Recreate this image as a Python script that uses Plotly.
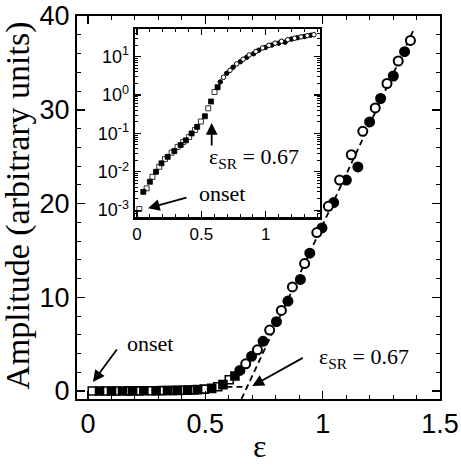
import plotly.graph_objects as go

# ---- data ----
sq_eps = [0.018, 0.049, 0.075, 0.100, 0.120, 0.147, 0.173, 0.190, 0.217, 0.238, 0.269, 0.290, 0.315,
          0.339, 0.359, 0.380, 0.405, 0.424, 0.450, 0.467, 0.496, 0.527, 0.553, 0.575, 0.602, 0.626]
sq_amp = [0.00107, 0.0030, 0.0037, 0.0055, 0.0074, 0.010, 0.0135, 0.0166, 0.0214, 0.0245, 0.0316, 0.0347, 0.0447,
          0.050, 0.060, 0.066, 0.081, 0.100, 0.123, 0.148, 0.204, 0.28, 0.45, 0.68, 1.2, 1.6]
sq_filled = [False, True] * 13

circ_eps = [0.647, 0.672, 0.697, 0.722, 0.746, 0.774, 0.803, 0.824, 0.852, 0.871, 0.905, 0.923, 0.945, 0.975, 0.997,
            1.024, 1.047, 1.072, 1.101, 1.122, 1.150, 1.171, 1.200, 1.224, 1.247, 1.274, 1.301, 1.322, 1.349, 1.374]
circ_amp = [2.2, 2.9, 3.7, 4.4, 5.3, 6.5, 7.4, 8.6, 9.6, 11.1, 11.9, 13.6, 14.7, 16.9, 17.4,
            19.7, 20.1, 22.5, 22.5, 25.2, 23.9, 27.7, 28.7, 30.2, 31.2, 32.8, 33.6, 35.2, 36.2, 37.4]
circ_filled = [True, False] * 15

fit_eps = [0.654, 1.391]
fit_amp = [-0.85, 38.7]
thr_eps = [0.59, 0.68]
thr_amp = [0.45, 0.45]

inset_tickvals = [1e-3, 1e-2, 1e-1, 1e0, 1e1]
inset_ticktext = ["10<sup>-3</sup>", "10<sup>-2</sup>", "10<sup>-1</sup>", "10<sup>0</sup>", "10<sup>1</sup>"]

SANS = "Liberation Sans"
SERIF = "Liberation Serif"


def pick(xs, ys, flags, want):
    return [x for x, f in zip(xs, flags) if f == want], [y for y, f in zip(ys, flags) if f == want]


fig = go.Figure()

# dashed fit lines (main)
fig.add_trace(go.Scatter(x=fit_eps, y=fit_amp, mode="lines",
                         line=dict(color="black", width=1.8, dash="6px,4px"), showlegend=False))
fig.add_trace(go.Scatter(x=thr_eps, y=thr_amp, mode="lines",
                         line=dict(color="black", width=1.8, dash="6px,4px"), showlegend=False))

for axes, sqsize, csize, lw in [(("x", "y"), 8, 9, 2.0), (("x2", "y2"), 5, 4.5, 1.0)]:
    xa, ya = axes
    ox, oy = pick(sq_eps, sq_amp, sq_filled, False)
    fx, fy = pick(sq_eps, sq_amp, sq_filled, True)
    fig.add_trace(go.Scatter(x=ox, y=oy, mode="markers", xaxis=xa, yaxis=ya, showlegend=False,
                             marker=dict(symbol="square", size=sqsize, color="white",
                                         line=dict(color="black", width=lw * 0.8))))
    fig.add_trace(go.Scatter(x=fx, y=fy, mode="markers", xaxis=xa, yaxis=ya, showlegend=False,
                             marker=dict(symbol="square", size=sqsize, color="black",
                                         line=dict(color="black", width=lw * 0.8))))
    ox, oy = pick(circ_eps, circ_amp, circ_filled, False)
    fx, fy = pick(circ_eps, circ_amp, circ_filled, True)
    fig.add_trace(go.Scatter(x=fx, y=fy, mode="markers", xaxis=xa, yaxis=ya, showlegend=False,
                             marker=dict(symbol="circle", size=csize, color="black",
                                         line=dict(color="black", width=lw))))
    fig.add_trace(go.Scatter(x=ox, y=oy, mode="markers", xaxis=xa, yaxis=ya, showlegend=False,
                             marker=dict(symbol="circle", size=csize, color="white",
                                         line=dict(color="black", width=lw))))

axis_common = dict(showgrid=False, zeroline=False, showline=True, linecolor="black", automargin=False,
                   mirror="ticks", ticks="inside", tickcolor="black")

fig.update_layout(
    width=461, height=466,
    margin=dict(l=77, r=21, t=16, b=67, autoexpand=False),
    paper_bgcolor="white", plot_bgcolor="white",
    hovermode=False,
    xaxis=dict(**axis_common, range=[-0.047, 1.5], linewidth=2, ticklen=8, tickwidth=1.5,
               tickmode="linear", tick0=0, dtick=0.5,
               minor=dict(ticks="inside", ticklen=4, tickwidth=1, dtick=0.1, tick0=0, tickcolor="black"),
               tickfont=dict(family=SANS, size=27, color="black")),
    yaxis=dict(**axis_common, range=[-0.85, 40], linewidth=2, ticklen=8, tickwidth=1.5,
               tickmode="linear", tick0=0, dtick=10,
               minor=dict(ticks="inside", ticklen=4, tickwidth=1, dtick=2, tick0=0, tickcolor="black"),
               tickfont=dict(family=SANS, size=27, color="black")),
    xaxis2=dict(**axis_common, domain=[0.160, 0.669], anchor="y2", range=[-0.015, 1.42], linewidth=2.5,
                ticklen=6, tickwidth=1.2, tickmode="linear", tick0=0, dtick=0.5,
                minor=dict(ticks="inside", ticklen=3, tickwidth=1, dtick=0.1, tick0=0, tickcolor="black"),
                tickfont=dict(family=SANS, size=17, color="black")),
    yaxis2=dict(**axis_common, domain=[0.475, 0.966], anchor="x2", type="log", range=[-3.18, 1.72],
                linewidth=2.5, ticklen=6, tickwidth=1.2, tickmode="array",
                tickvals=inset_tickvals, ticktext=inset_ticktext,
                minor=dict(ticks="inside", ticklen=3, tickwidth=1, dtick="D1", tickcolor="black"),
                tickfont=dict(family=SANS, size=18, color="black")),
)

ann_font = dict(family=SERIF, size=22, color="black")
annotations = [
    # axis titles
    dict(text="Amplitude (arbitrary units)", xref="paper", yref="paper", x=-0.165, y=0.505,
         textangle=-90, showarrow=False, xanchor="center", yanchor="middle",
         font=dict(family=SERIF, size=34, color="black")),
    dict(text="ε", xref="paper", yref="paper", x=0.504, y=-0.122, showarrow=False,
         xanchor="center", yanchor="middle", font=dict(family=SERIF, size=32, color="black")),
    # main labels
    dict(text="onset", x=0.157, y=5.1, xref="x", yref="y", showarrow=False,
         xanchor="left", yanchor="middle", font=ann_font),
    dict(text="", x=0.021, y=0.96, xref="x", yref="y", showarrow=True, ax=25, ay=-34,
         arrowhead=2, arrowsize=1.3, arrowwidth=1.8, arrowcolor="black"),
    dict(text="ε<sub>SR</sub> = 0.67", x=0.974, y=3.5, xref="x", yref="y", showarrow=False,
         xanchor="left", yanchor="middle", font=ann_font),
    dict(text="", x=0.70, y=0.53, xref="x", yref="y", showarrow=True, ax=52, ay=-29,
         arrowhead=2, arrowsize=1.3, arrowwidth=1.8, arrowcolor="black"),
    # inset labels
    dict(text="onset", x=0.465, y=-2.56, xref="x2", yref="y2", showarrow=False,
         xanchor="left", yanchor="middle", font=ann_font),
    dict(text="", x=0.085, y=-2.95, xref="x2", yref="y2", showarrow=True, ax=40, ay=-11,
         arrowhead=2, arrowsize=1.3, arrowwidth=1.8, arrowcolor="black"),
    dict(text="ε<sub>SR</sub> = 0.67", x=0.543, y=-1.645, xref="x2", yref="y2", showarrow=False,
         xanchor="left", yanchor="middle", font=ann_font),
    dict(text="", x=0.58, y=-0.73, xref="x2", yref="y2", showarrow=True, ax=0, ay=24,
         arrowhead=2, arrowsize=1.3, arrowwidth=1.8, arrowcolor="black"),
]
fig.update_layout(annotations=annotations)

fig.write_html("out.html", config={"displayModeBar": False, "staticPlot": True},
               post_script="document.body.style.margin='0';")
